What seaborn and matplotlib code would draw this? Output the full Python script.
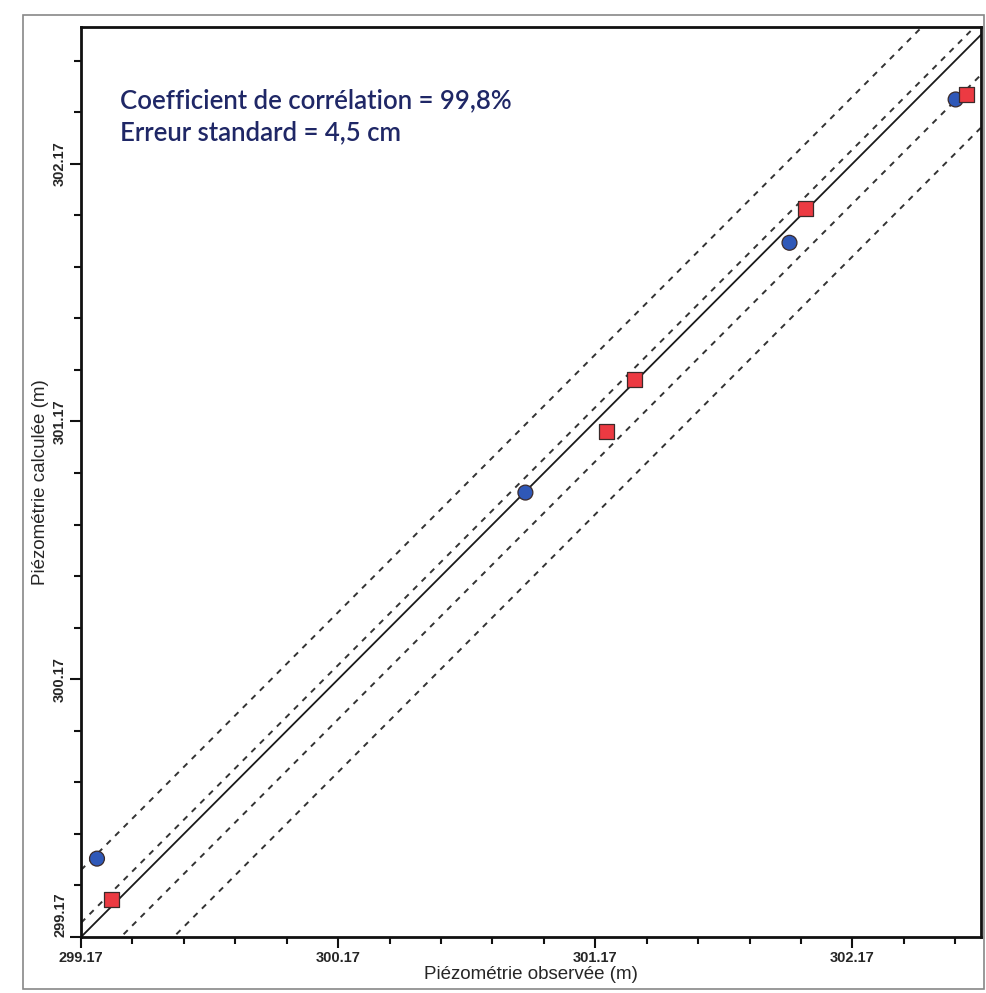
import numpy as np
import pandas as pd
import seaborn as sns
import matplotlib.pyplot as plt
from matplotlib.patches import Rectangle
from matplotlib.ticker import FixedLocator

# observed vs computed heads (m)
obs_a = [299.232, 300.898, 301.925, 302.571]
calc_a = [299.474, 300.894, 301.863, 302.419]
obs_b = [299.287, 301.213, 301.322, 301.987, 302.614]
calc_b = [299.314, 301.131, 301.333, 301.995, 302.439]

# offsets of the dashed envelope lines around y = x
band_offsets = [0.26, 0.055, -0.155, -0.36]

x_lim = (299.17, 302.67)
y_lim = (299.17, 302.70)
major_ticks = [299.17, 300.17, 301.17, 302.17]

df = pd.DataFrame({
    "obs": obs_a + obs_b,
    "calc": calc_a + calc_b,
    "serie": ["a"] * len(obs_a) + ["b"] * len(obs_b),
})

sns.set_style("white")
plt.rcParams['font.family'] = ['Liberation Sans', 'DejaVu Sans']

fig = plt.figure(figsize=(9.86, 9.93), dpi=100)
ax = fig.add_axes([0.0822, 0.0564, 0.9128, 0.9164])

# reference line and envelope
xs = np.array(x_lim)
ax.plot(xs, xs, color="#1a1a1a", lw=1.3, zorder=2)
for off in band_offsets:
    ax.plot(xs, xs + off, color="#333333", lw=1.4, ls=(0, (3, 3.2)), zorder=2)

sns.scatterplot(data=df, x="obs", y="calc", hue="serie", style="serie",
                palette={"a": "#2f58b8", "b": "#ec3a42"},
                markers={"a": "o", "b": "s"}, s=115,
                edgecolor="#3a2a2a", linewidth=0.9, legend=False,
                ax=ax, zorder=3)

ax.set_xlim(*x_lim)
ax.set_ylim(*y_lim)

ax.xaxis.set_major_locator(FixedLocator(major_ticks))
ax.yaxis.set_major_locator(FixedLocator(major_ticks))
ax.xaxis.set_minor_locator(FixedLocator(np.arange(299.17, 302.68, 0.2)))
ax.yaxis.set_minor_locator(FixedLocator(np.arange(299.17, 302.71, 0.2)))
ax.set_xticklabels(["%.2f" % t for t in major_ticks], fontsize=10.5, fontweight="bold")
ylabels = ax.set_yticklabels(["%.2f" % t for t in major_ticks], fontsize=10.5,
                             fontweight="bold", rotation=90, va="center")
ylabels[0].set_va("bottom")
ax.tick_params(which="major", direction="out", length=8, width=1.5, color="#111111", pad=2)
ax.tick_params(which="minor", direction="out", length=5, width=1.5, color="#111111")
ax.tick_params(axis="x", which="both", bottom=True)
ax.tick_params(axis="y", which="both", left=True)

for side in ["left", "bottom", "top", "right"]:
    ax.spines[side].set_linewidth(2.0)
    ax.spines[side].set_color("#111111")

ax.set_xlabel("Piézométrie observée (m)", fontsize=13.5, labelpad=1)
ax.set_ylabel("Piézométrie calculée (m)", fontsize=13.5, labelpad=3)

ax.text(0.043, 0.933, "Coefficient de corrélation = 99,8%\nErreur standard = 4,5 cm",
        transform=ax.transAxes, fontsize=18.5, color="#1f2766", fontweight="semibold",
        family=["Lato", "DejaVu Sans"], va="top", ha="left", linespacing=1.35)

# outer frame of the figure
fig.patches.append(Rectangle((0.023, 0.004), 0.975, 0.981, transform=fig.transFigure,
                             fill=False, edgecolor="#888888", lw=1.2))

fig.savefig("out.png", dpi=100)
